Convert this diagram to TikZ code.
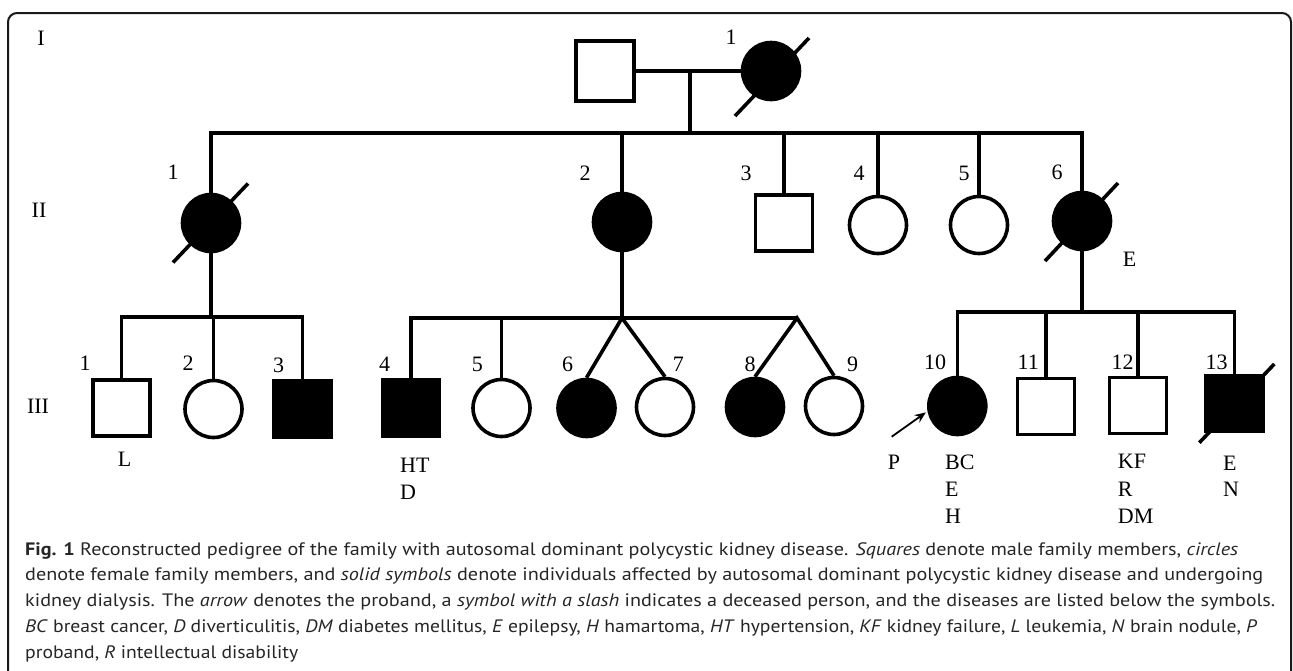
\documentclass[tikz,border=0pt]{standalone}
\usepackage{fontspec}
\setmainfont{Liberation Serif}
\newfontfamily\capfont{PT Sans}
\usepackage{graphicx}
\usetikzlibrary{arrows.meta}
\newcommand\capsz{\capfont\fontsize{18pt}{22pt}\selectfont}
\begin{document}
\begin{tikzpicture}[x=1pt,y=-1pt,
  lw/.style={line width=3.6pt},
  male/.style={rectangle, draw=black, lw, minimum width=57pt, minimum height=56pt, inner sep=0pt},
  female/.style={circle, draw=black, lw, minimum size=57pt, inner sep=0pt},
  aff/.style={fill=black},
  conn/.style={lw, line join=miter},
  lbl/.style={font=\fontsize{22pt}{26pt}\selectfont, inner sep=0pt, anchor=base},
  dis/.style={lbl, anchor=base west},
  capline/.style={inner sep=0pt, anchor=base west, text=black!85}
]
\clip (0,0) rectangle (1293,670);
\fill[white] (0,0) rectangle (1293,670);
\draw[line width=2pt, black!90, rounded corners=9pt] (8,13) rectangle (1291,720);

% generation labels
\node[lbl] (gI) at (41,45.8) {I};
\node[lbl] (gII) at (39,217.3) {II};
\node[lbl] (gIII) at (38,413.3) {III};

% generation I
\node[male, minimum width=58pt, minimum height=60pt] (I1m) at (605,71) {};
\node[female, aff] (I1f) at (771,71) {};
\draw[lw] (I1m) -- (I1f);
\draw[lw] ([shift={(-36,45)}]I1f.center) -- ([shift={(38,-33)}]I1f.center);
\node[lbl] (nI1) at (731,44.4) {1};
\coordinate (m1) at (690,71);
\coordinate (s1) at (690,133);
\draw[lw] (m1) -- (s1);

% generation II
\node[female, aff] (II1) at (211,223) {};
\node[female, aff] (II2) at (622,222) {};
\node[male] (II3) at (784,223) {};
\node[female] (II4) at (878,225) {};
\node[female] (II5) at (979,225) {};
\node[female, aff] (II6) at (1082,221) {};
\draw[conn] (II1.north) -- (II1.north |- s1) -- (II6.north |- s1) -- (II6.north);
\foreach \n in {II2,II3,II4,II5} \draw[lw] (\n.north) -- (\n.north |- s1);
\draw[lw] ([shift={(-38,39.5)}]II1.center) -- ([shift={(37,-39.5)}]II1.center);
\draw[lw] ([shift={(-37,40)}]II6.center) -- ([shift={(36,-38)}]II6.center);
\node[lbl] (nII1) at (173,179.4) {1};
\node[lbl] (nII2) at (585,180.4) {2};
\node[lbl] (nII3) at (746,180.4) {3};
\node[lbl] (nII4) at (859,180.4) {4};
\node[lbl] (nII5) at (964,180.4) {5};
\node[lbl] (nII6) at (1057,179.4) {6};
\node[lbl] (dII6) at (1129.7,266) {E};

% generation III
\node[male] (III1) at (121.5,408) {};
\node[female] (III2) at (213.5,409) {};
\node[male, aff] (III3) at (302.5,409) {};
\node[male, aff] (III4) at (411,408) {};
\node[female] (III5) at (501.5,408) {};
\node[female, aff] (III6) at (586.5,408) {};
\node[female] (III7) at (665,407) {};
\node[female, aff] (III8) at (755,407) {};
\node[female] (III9) at (834,406) {};
\node[female, aff] (III10) at (957.3,406) {};
\node[male] (III11) at (1045.8,406.5) {};
\node[male] (III12) at (1138,405.5) {};
\node[male, aff] (III13) at (1234.5,403.3) {};

% sibship of II-1
\coordinate (j1) at (211,317);
\draw[lw] (II1.south) -- (j1);
\draw[conn] (III1.north) -- (III1.north |- j1) -- (III3.north |- j1) -- (III3.north);
\draw[lw] (III2.north) -- (III2.north |- j1);

% sibship of II-2
\coordinate (j2) at (622,318);
\coordinate (t2) at (797,318);
\draw[lw] (II2.south) -- (j2);
\draw[conn] (III4.north) -- (III4.north |- j2) -- (t2);
\draw[lw] (III5.north) -- (III5.north |- j2);
\draw[conn] (III6.north) -- (j2) -- (III7.north);
\draw[conn] (III8.north) -- (t2) -- (III9.north);

% sibship of II-6
\coordinate (j3) at (1082,312);
\draw[lw] (II6.south) -- (j3);
\draw[conn] (III10.north) -- (III10.north |- j3) -- (III13.north |- j3) -- (III13.north);
\draw[lw] (III11.north) -- (III11.north |- j3);
\draw[lw] (III12.north) -- (III12.north |- j3);

\draw[lw] ([shift={(-35.2,39.4)}]III13.center) -- ([shift={(39.8,-39.3)}]III13.center);

% proband arrow
\coordinate (pA) at (891.7,436.7);
\draw[line width=1.8pt, -{Stealth[length=11pt,width=9pt]}, shorten >=2pt] (pA) -- (III10.190);

% numbers
\node[lbl] (nIII1) at (85,370.4) {1};
\node[lbl] (nIII2) at (188,370.4) {2};
\node[lbl] (nIII3) at (278.6,372) {3};
\node[lbl] (nIII4) at (384.5,371.4) {4};
\node[lbl] (nIII5) at (477.3,371.4) {5};
\node[lbl] (nIII6) at (567.7,371.4) {6};
\node[lbl] (nIII7) at (678.3,371.4) {7};
\node[lbl] (nIII8) at (750,371.4) {8};
\node[lbl] (nIII9) at (852.7,371.4) {9};
\node[lbl] (nIII10) at (935,369) {10};
\node[lbl] (nIII11) at (1028.3,369) {11};
\node[lbl] (nIII12) at (1122.7,369) {12};
\node[lbl] (nIII13) at (1216.7,369) {13};

% diseases
\node[lbl] (dIII1) at (124.5,466.3) {L};
\node[dis] (dIII4a) at (400,472.5) {HT};
\node[dis] (dIII4b) at (400,499.3) {D};
\node[lbl] (pP) at (894,469) {P};
\node[dis] (dIII10a) at (945,469) {BC};
\node[dis] (dIII10b) at (945,496.6) {E};
\node[dis] (dIII10c) at (945,523.3) {H};
\node[dis] (dIII12a) at (1117.7,468.3) {KF};
\node[dis] (dIII12b) at (1117.7,496.3) {R};
\node[dis] (dIII12c) at (1117.7,523.3) {DM};
\node[dis] (dIII13a) at (1223,470) {E};
\node[dis] (dIII13b) at (1223,496.6) {N};

% caption
\node[capline] (cap1) at (25,555) {\resizebox{1213pt}{\height}{\capsz \textbf{Fig. 1} Reconstructed pedigree of the family with autosomal dominant polycystic kidney disease. \textit{Squares} denote male family members, \textit{circles}}};
\node[capline] (cap2) at (25,580.8) {\resizebox{1238pt}{\height}{\capsz denote female family members, and \textit{solid symbols} denote individuals affected by autosomal dominant polycystic kidney disease and undergoing}};
\node[capline] (cap3) at (25,606.5) {\resizebox{1250pt}{\height}{\capsz kidney dialysis. The \textit{arrow} denotes the proband, a \textit{symbol with a slash} indicates a deceased person, and the diseases are listed below the symbols.}};
\node[capline] (cap4) at (25,632.3) {\resizebox{1232pt}{\height}{\capsz \textit{BC} breast cancer, \textit{D} diverticulitis, \textit{DM} diabetes mellitus, \textit{E} epilepsy, \textit{H} hamartoma, \textit{HT} hypertension, \textit{KF} kidney failure, \textit{L} leukemia, \textit{N} brain nodule, \textit{P}}};
\node[capline] (cap5) at (25,658) {\resizebox{273pt}{\height}{\capsz proband, \textit{R} intellectual disability}};
\end{tikzpicture}
\end{document}
